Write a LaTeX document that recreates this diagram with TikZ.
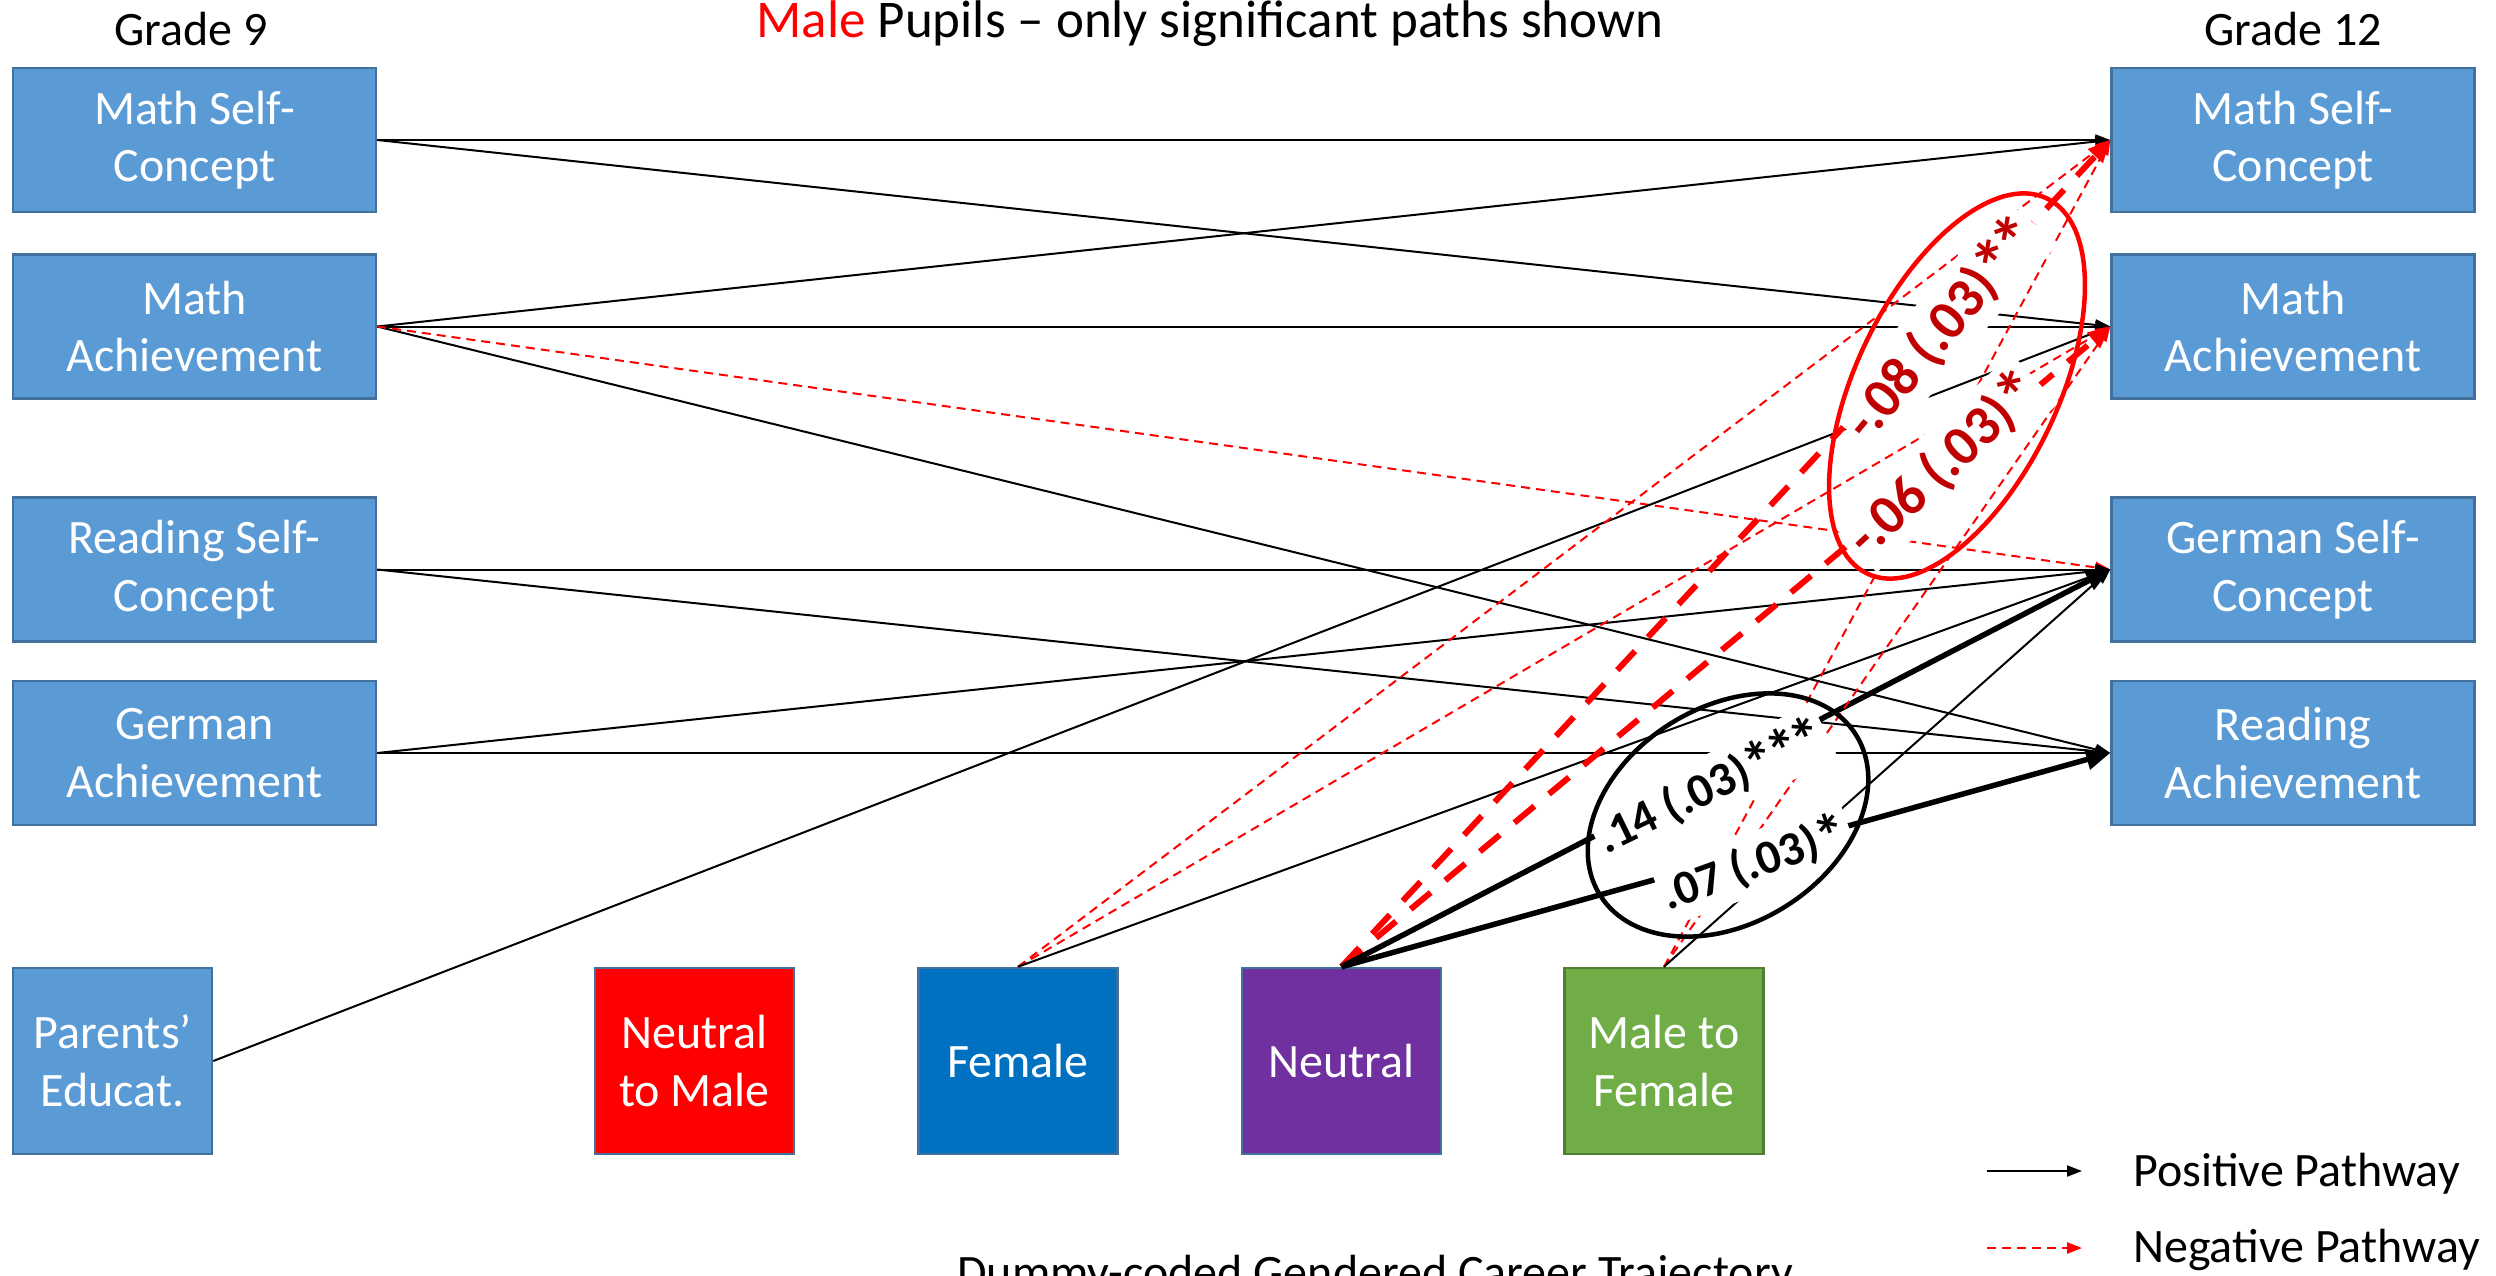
\documentclass[tikz,border=0pt]{standalone}
\usepackage{fontspec}
\setmainfont{Carlito}
\usetikzlibrary{arrows.meta,shapes.geometric}

\definecolor{boxblue}{HTML}{5B9BD5}
\definecolor{boxedge}{HTML}{41719C}
\definecolor{femblue}{HTML}{0070C0}
\definecolor{neutpurple}{HTML}{7030A0}
\definecolor{mtfgreen}{HTML}{70AD47}
\definecolor{mtfedge}{HTML}{507E32}
\definecolor{coefred}{HTML}{C00000}

% significance stars, a little larger than the font's own asterisk
\newcommand{\sigstar}{\raisebox{-0.14em}{\scalebox{1.3}{*}}}
\newcommand{\stars}[1]{\foreach \k in {1,...,#1}{\ifnum\k>1\kern-0.1em\fi\sigstar}}

\tikzset{
  var/.style={draw=boxedge, line width=2.5pt, fill=boxblue, text=white,
    minimum width=363pt, minimum height=144pt, align=center, inner sep=0pt,
    font=\fontsize{48}{57.6}\selectfont},
  traj/.style={var, minimum width=199pt, minimum height=186pt},
  lbl/.style={font=\fontsize{48}{57.6}\selectfont, inner sep=0pt},
  posline/.style={draw=black, line width=2pt, -{Triangle[length=15pt,width=11pt]}},
  negline/.style={draw=red, line width=2pt, dash pattern=on 9pt off 6pt,
    -{Triangle[length=15pt,width=11pt]}},
  posthick/.style={draw=black, line width=5.5pt, -{Triangle[length=24pt,width=20pt]}},
  negthick/.style={draw=red, line width=6pt, dash pattern=on 26pt off 19pt,
    -{Triangle[length=22pt,width=19pt]}},
  coef/.style={fill=white, inner xsep=3pt, inner ysep=8pt,
    font=\bfseries\fontsize{48}{48}\selectfont},
  coefneg/.style={coef, text=coefred, font=\bfseries\fontsize{56}{56}\selectfont},
}

\begin{document}
\begin{tikzpicture}[x=1pt,y=-1pt]
\clip (0,0) rectangle (2496,1275);

% headings
\node[lbl, anchor=base] (g9) at (191,45) {Grade 9};
\node[lbl, anchor=base] (g12) at (2293,45) {Grade 12};
\node[lbl, anchor=base, font=\fontsize{53}{60}\selectfont] (title) at (1210,37)
  {{\color{red}Male} Pupils – only significant paths shown};

% grade 9 variables
\node[var] (m9sc)  at (194.5,140)   {Math Self-\\Concept};
\node[var] (m9ach) at (194.5,326.5) {Math\\Achievement};
\node[var] (r9sc)  at (194.5,569.5) {Reading Self-\\Concept};
\node[var] (g9ach) at (194.5,753)   {German\\Achievement};
\node[var, minimum width=199pt, minimum height=186pt] (par) at (112.5,1061) {Parents’\\Educat.};

% grade 12 variables
\node[var] (m12sc)  at (2293,140)   {Math Self-\\Concept};
\node[var] (m12ach) at (2293,326.5) {Math\\Achievement};
\node[var] (g12sc)  at (2293,569.5) {German Self-\\Concept};
\node[var] (r12ach) at (2293,753)   {Reading\\Achievement};

% career trajectory dummies
\node[traj, fill=red] (ntm) at (694.5,1061) {Neutral\\to Male};
\node[traj, fill=femblue] (fem) at (1018,1061) {Female};
\node[traj, fill=neutpurple] (neu) at (1341.5,1061) {Neutral};
\node[traj, fill=mtfgreen, draw=mtfedge] (mtf) at (1664,1061) {Male to\\Female};

% paths from grade 9
\draw[posline] (m9sc.east) -- (m12sc.west);
\draw[posline] (m9sc.east) -- (m12ach.west);
\draw[posline] (m9ach.east) -- (m12sc.west);
\draw[posline] (m9ach.east) -- (m12ach.west);
\draw[posline] (m9ach.east) -- (r12ach.west);
\draw[negline] (m9ach.east) -- (g12sc.west);
\draw[posline] (r9sc.east) -- (g12sc.west);
\draw[posline] (r9sc.east) -- (r12ach.west);
\draw[posline] (g9ach.east) -- (g12sc.west);
\draw[posline] (g9ach.east) -- (r12ach.west);
\draw[posline] (par.east) -- (m12ach.west);

% paths from the trajectory dummies
\draw[negline] (fem.north) -- (m12sc.west);
\draw[negline] (fem.north) -- (m12ach.west);
\draw[posline] (fem.north) -- (g12sc.west);
\draw[negthick] (neu.north) -- (m12sc.west);
\draw[negthick] (neu.north) -- (m12ach.west);
\draw[posthick] (neu.north) -- (g12sc.west);
\draw[posthick] (neu.north) -- (r12ach.west);
\draw[negline] (mtf.north) -- (m12sc.west);
\draw[negline] (mtf.north) -- (m12ach.west);
\draw[posline] (mtf.north) -- (g12sc.west);

% coefficients of the Neutral paths
\node[coefneg, rotate=50] (cm1) at (1942,328) {-.08 (.03)\stars{2}};
\node[coefneg, rotate=43] (cm2) at (1944,463) {-.06 (.03)\stars{1}};
\node[coef, rotate=26] (cp1) at (1711,786) {.14 (.03)\stars{3}};
\node[coef, rotate=20] (cp2) at (1755,863) {.07 (.03)\stars{1}};

\node[draw=red, line width=4.5pt, ellipse, inner sep=0pt,
      minimum width=416pt, minimum height=202pt, rotate=64.4] (redring) at (1957,386) {};
\node[draw=black, line width=4.5pt, ellipse, inner sep=0pt,
      minimum width=302pt, minimum height=216pt, rotate=32] (blackring) at (1728,815) {};

% legend
\coordinate (lp0) at (1987,1171);
\coordinate (lp1) at (2082,1171);
\coordinate (ln0) at (1987,1248);
\coordinate (ln1) at (2082,1248);
\draw[posline] (lp0) -- (lp1);
\draw[negline, line width=2.5pt] (ln0) -- (ln1);
\node[lbl, anchor=base west] (lpt) at (2133,1186) {Positive Pathway};
\node[lbl, anchor=base west] (lnt) at (2133,1262) {Negative Pathway};

% axis caption of the dummies
\node[lbl, anchor=base] (dummy) at (1375,1288) {Dummy-coded Gendered Career Trajectory};
\end{tikzpicture}
\end{document}
